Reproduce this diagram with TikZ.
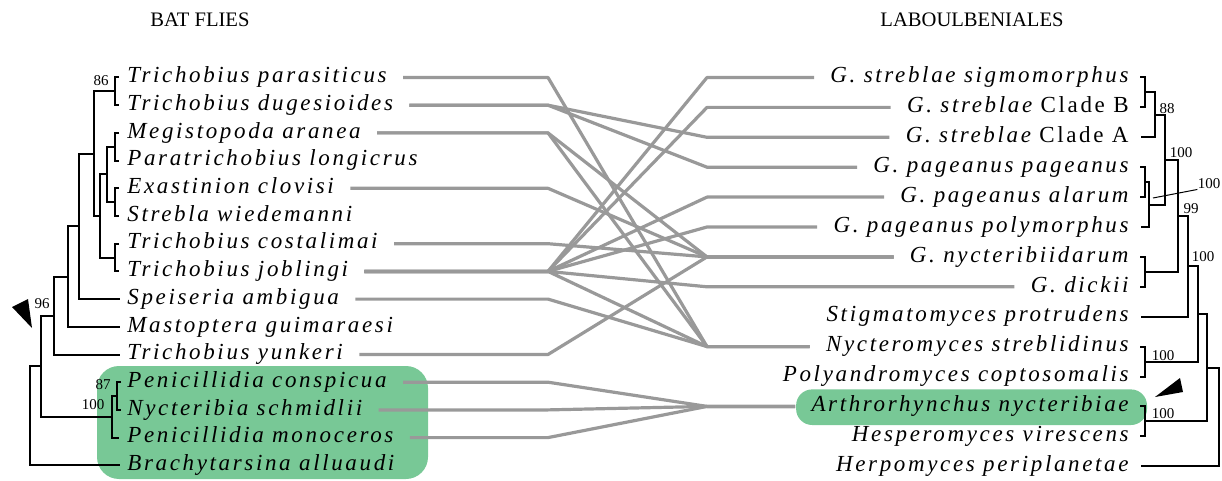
\documentclass[tikz,border=0pt]{standalone}
\usepackage{fontspec}
\usetikzlibrary{backgrounds}
\setmainfont{Liberation Serif}
\newfontfamily\taxfont[LetterSpace=11.5]{Liberation Serif}
\definecolor{linkgray}{RGB}{153,153,153}
\definecolor{cladegreen}{RGB}{120,200,150}
\tikzset{
    taxon/.style={font=\taxfont\itshape\fontsize{11.5}{13}\selectfont, inner sep=0pt, text height=1.4ex, text depth=.25ex},
    head/.style={font=\fontsize{10.3}{12}\selectfont, inner sep=0pt},
    boot/.style={font=\fontsize{7.5}{9}\selectfont, inner sep=0pt},
    tree/.style={line width=1pt},
    link/.style={draw=linkgray, line width=1.6pt, line join=round},
}
\begin{document}
\begin{tikzpicture}[x=0.5pt, y=-0.5pt]
            \useasboundingbox (0, 0) rectangle (1222, 481);

            \node[head] (batflies) at (200, 20) {BAT FLIES};
            \node[head] (laboul) at (972, 20) {LABOULBENIALES};

            \foreach \name [count=\i] in {Trichobius parasiticus, Trichobius dugesioides, Megistopoda aranea,
                    Paratrichobius longicrus, Exastinion clovisi, Strebla wiedemanni, Trichobius costalimai,
                    Trichobius joblingi, Speiseria ambigua, Mastoptera guimaraesi, Trichobius yunkeri,
                    Penicillidia conspicua, Nycteribia schmidlii, Penicillidia monoceros, Brachytarsina alluaudi} {
                \node[taxon, anchor=west] (l\i) at (127, {77.5 + 27.7*(\i - 1)}) {\name};
                \coordinate (lk\i) at (548, {77.5 + 27.7*(\i - 1)});
            }
            \foreach \name [count=\i] in {G. streblae sigmomorphus, G. streblae {\upshape Clade B}, G. streblae {\upshape Clade A},
                    G. pageanus pageanus, G. pageanus alarum, G. pageanus polymorphus, G. nycteribiidarum, G. dickii,
                    Stigmatomyces protrudens, Nycteromyces streblidinus, Polyandromyces coptosomalis,
                    Arthrorhynchus nycteribiae, Hesperomyces virescens, Herpomyces periplanetae} {
                \node[taxon, anchor=east] (r\i) at (1129, {77.5 + 29.9*(\i - 1)}) {\name};
                \coordinate (rk\i) at (707, {77.5 + 29.9*(\i - 1)});
            }

            % highlighted clades
            \begin{scope}[on background layer]
                \fill[cladegreen, rounded corners=11pt] (97, 366) rectangle (428, 479);
                \fill[cladegreen, rounded corners=8pt] ([shift={(-15, -17)}]r12.west) rectangle (1147, 425);
            \end{scope}

            % associations
            \draw[link] ([xshift=8pt]l1.east) -- (lk1) -- (rk10) -- ([xshift=-8pt]r10.west);   %  1 -- 10
            \draw[link] ([xshift=8pt]l2.east) -- (lk2) -- (rk3) -- ([xshift=-8pt]r3.west);     %  2 -- 3
            \draw[link] ([xshift=8pt]l2.east) -- (lk2) -- (rk4) -- ([xshift=-8pt]r4.west);     %  2 -- 4
            \draw[link] ([xshift=8pt]l3.east) -- (lk3) -- (rk7) -- ([xshift=-8pt]r7.west);     %  3 -- 7
            \draw[link] ([xshift=8pt]l3.east) -- (lk3) -- (rk10) -- ([xshift=-8pt]r10.west);   %  3 -- 10
            \draw[link] ([xshift=8pt]l5.east) -- (lk5) -- (rk7) -- ([xshift=-8pt]r7.west);     %  5 -- 7
            \draw[link] ([xshift=8pt]l7.east) -- (lk7) -- (rk7) -- ([xshift=-8pt]r7.west);     %  7 -- 7
            \draw[link] ([xshift=8pt]l8.east) -- (lk8) -- (rk1) -- ([xshift=-8pt]r1.west);     %  8 -- 1
            \draw[link] ([xshift=8pt]l8.east) -- (lk8) -- (rk2) -- ([xshift=-8pt]r2.west);     %  8 -- 2
            \draw[link] ([xshift=8pt]l8.east) -- (lk8) -- (rk5) -- ([xshift=-8pt]r5.west);     %  8 -- 5
            \draw[link] ([xshift=8pt]l8.east) -- (lk8) -- (rk6) -- ([xshift=-8pt]r6.west);     %  8 -- 6
            \draw[link] ([xshift=8pt]l8.east) -- (lk8) -- (rk8) -- ([xshift=-8pt]r8.west);     %  8 -- 8
            \draw[link] ([xshift=8pt]l8.east) -- (lk8) -- (rk10) -- ([xshift=-8pt]r10.west);   %  8 -- 10
            \draw[link] ([xshift=8pt]l9.east) -- (lk9) -- (rk10) -- ([xshift=-8pt]r10.west);   %  9 -- 10
            \draw[link] ([xshift=8pt]l11.east) -- (lk11) -- (rk7) -- ([xshift=-8pt]r7.west);   % 11 -- 7
            \draw[link] ([xshift=8pt]l12.east) -- (lk12) -- (rk12) -- ([xshift=-8pt]r12.west); % 12 -- 12
            \draw[link] ([xshift=8pt]l13.east) -- (lk13) -- (rk12) -- ([xshift=-8pt]r12.west); % 13 -- 12
            \draw[link] ([xshift=8pt]l14.east) -- (lk14) -- (rk12) -- ([xshift=-8pt]r12.west); % 14 -- 12

            % bat fly tree
            \draw[tree] (119, 77.5) -| (115, 105.2) -- (119, 105.2);
            \draw[tree] (115, 91.4) -| (94, 216) -- (100, 216);
            \draw[tree] (119, 132.9) -| (115, 160.6) -- (119, 160.6);
            \draw[tree] (119, 188.3) -| (115, 216) -- (119, 216);
            \draw[tree] (115, 146.8) -| (107, 202.2) -- (115, 202.2);
            \draw[tree] (119, 243.7) -| (115, 271.4) -- (119, 271.4);
            \draw[tree] (107, 174.5) -| (100, 257.6) -- (115, 257.6);
            \draw[tree] (94, 153.7) -| (79, 299.1) -- (120, 299.1);
            \draw[tree] (79, 226.4) -| (68, 326.8) -- (120, 326.8);
            \draw[tree] (68, 276.6) -| (54, 354.5) -- (120, 354.5);
            \draw[tree] (121, 382.2) -| (117, 409.9) -- (121, 409.9);
            \draw[tree] (117, 396) -| (112, 437.6) -- (119, 437.6);
            \draw[tree] (54, 315.5) -| (41, 416.8) -- (112, 416.8);
            \draw[tree] (41, 366.2) -| (30, 465.3) -- (120, 465.3);
            \node[boot] (bs86) at (101, 81) {86};
            \node[boot] (bs96) at (42, 304) {96};
            \node[boot] (bs87) at (103, 385) {87};
            \node[boot] (bs100a) at (93, 405) {100};
            \fill (12, 307) -- (28, 299) -- (32, 328) -- cycle;

            % fungus tree
            \draw[tree] (1140, 77.5) -| (1145, 107.4) -- (1140, 107.4);
            \draw[tree] (1145, 92.5) -| (1155, 137.3) -- (1141, 137.3);
            \draw[tree] (1140, 167.2) -| (1145, 197.1) -- (1140, 197.1);
            \draw[tree] (1145, 182.2) -| (1149, 227) -- (1141, 227);
            \draw[tree] (1155, 114.9) -| (1165, 204.6) -- (1149, 204.6);
            \draw[tree] (1140, 256.9) -| (1145, 286.8) -- (1140, 286.8);
            \draw[tree] (1165, 159.8) -| (1178, 271.9) -- (1145, 271.9);
            \draw[tree] (1178, 215.9) -| (1188, 316.7) -- (1141, 316.7);
            \draw[tree] (1140, 346.6) -| (1145, 376.5) -- (1140, 376.5);
            \draw[tree] (1188, 266.3) -| (1198, 361.6) -- (1145, 361.6);
            \draw[tree] (1140, 406.4) -| (1145, 436.3) -- (1140, 436.3);
            \draw[tree] (1198, 314) -| (1207, 421.4) -- (1145, 421.4);
            \draw[tree] (1207, 367.7) -| (1219, 466.2) -- (1141, 466.2);
            \node[boot] (bs88) at (1167, 109) {88};
            \node[boot] (bs100b) at (1181, 153) {100};
            \node[boot] (bs100c) at (1209, 184) {100};
            \draw[line width=0.5pt] (1153, 198) -- (bs100c.south west);
            \node[boot] (bs99) at (1191, 209) {99};
            \node[boot] (bs100d) at (1203, 257) {100};
            \node[boot] (bs100e) at (1163, 356) {100};
            \node[boot] (bs100f) at (1163, 414) {100};
            \fill (1155, 397) -- (1180, 378) -- (1183, 392) -- cycle;
        \end{tikzpicture}
\end{document}
